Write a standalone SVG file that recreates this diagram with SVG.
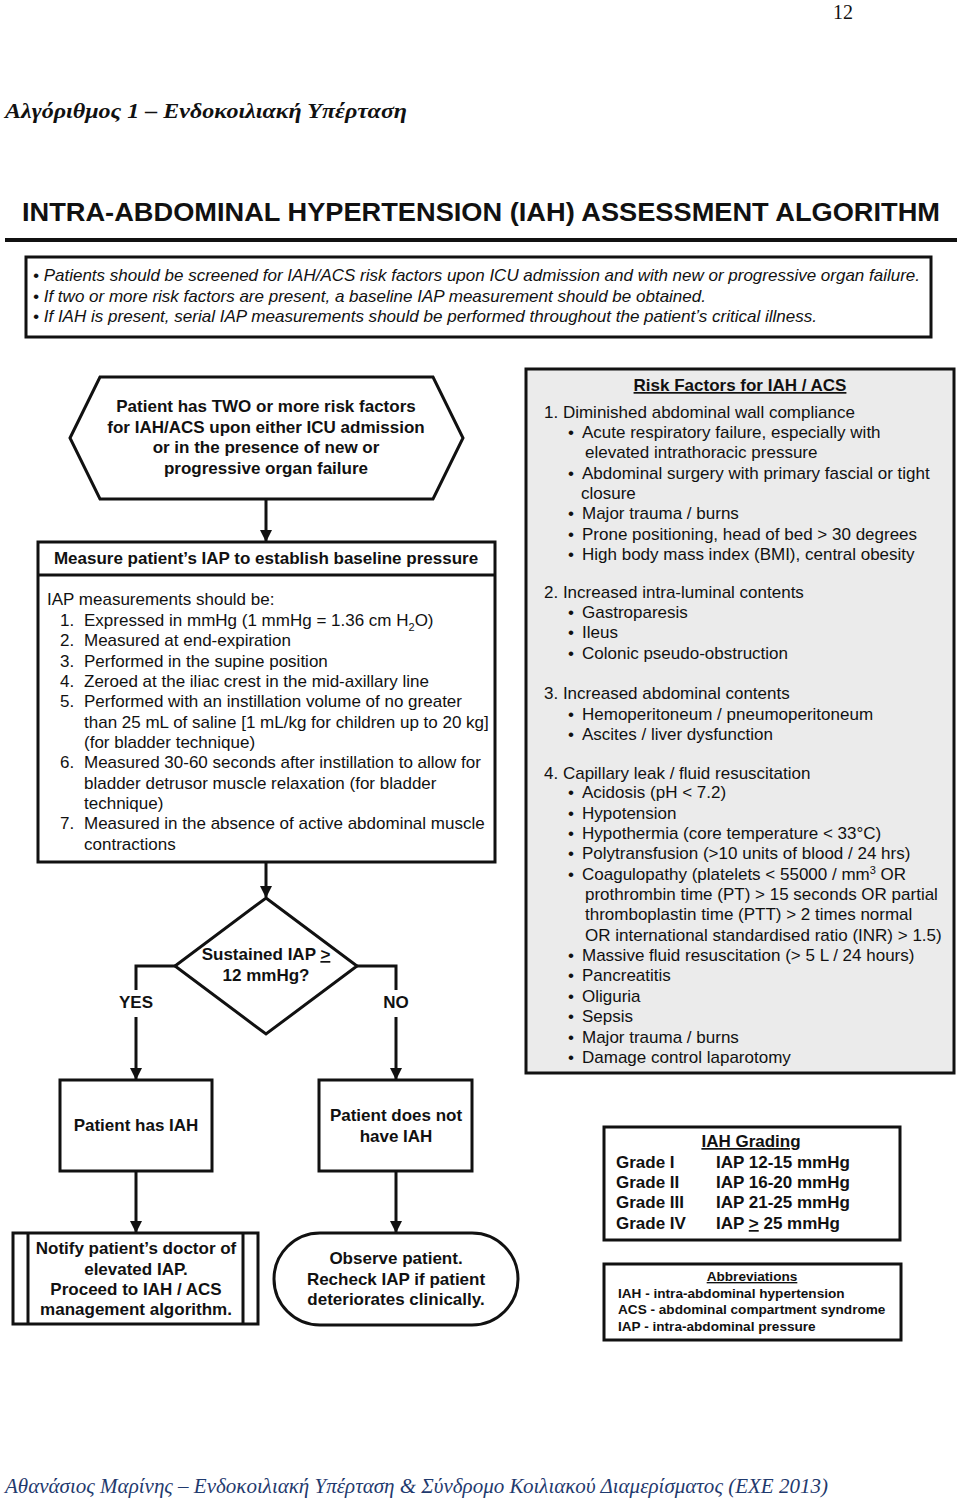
<svg xmlns="http://www.w3.org/2000/svg" width="960" height="1502" viewBox="0 0 960 1502">
<defs>
<style>
.s{font-family:"Liberation Sans",Arial,sans-serif;font-size:17px;fill:#111}
.b{font-family:"Liberation Sans",Arial,sans-serif;font-size:17px;font-weight:bold;fill:#111}
.c{text-anchor:middle}
.i{font-family:"Liberation Sans",Arial,sans-serif;font-size:17px;font-style:italic;fill:#111}
.box{fill:#fff;stroke:#111;stroke-width:3}
.ln{fill:none;stroke:#111;stroke-width:3}
.ab{font-family:"Liberation Sans",Arial,sans-serif;font-size:13.6px;font-weight:bold;fill:#111}
</style>
<marker id="ah" markerWidth="12" markerHeight="12" viewBox="0 0 12 12" refX="11" refY="6" orient="auto" markerUnits="userSpaceOnUse">
<path d="M0,0 L12,6 L0,12 z" fill="#111"/>
</marker>
</defs>
<rect width="960" height="1502" fill="#fff"/>

<text x="843" y="19" font-family="Liberation Serif,serif" font-size="20" fill="#111" text-anchor="middle">12</text>
<text x="5" y="118" font-family="Liberation Serif,serif" font-size="22" font-weight="bold" font-style="italic" fill="#111" textLength="402" lengthAdjust="spacingAndGlyphs">Αλγόριθμος 1 – Ενδοκοιλιακή Υπέρταση</text>

<g id="title">
<text transform="translate(22,221) scale(1,1.08)" x="0" y="0" font-family="Liberation Sans,Arial,sans-serif" font-size="24" font-weight="bold" fill="#111" textLength="918" lengthAdjust="spacingAndGlyphs">INTRA-ABDOMINAL HYPERTENSION (IAH) ASSESSMENT ALGORITHM</text>
<rect x="5" y="238" width="952" height="4" fill="#111"/>
</g>

<g id="intro">
<rect x="26" y="257" width="905" height="80" class="box"/>
<text class="i" x="33" y="281" textLength="887" lengthAdjust="spacingAndGlyphs">• Patients should be screened for IAH/ACS risk factors upon ICU admission and with new or progressive organ failure.</text>
<text class="i" x="33" y="302" textLength="673" lengthAdjust="spacingAndGlyphs">• If two or more risk factors are present, a baseline IAP measurement should be obtained.</text>
<text class="i" x="33" y="322" textLength="784" lengthAdjust="spacingAndGlyphs">• If IAH is present, serial IAP measurements should be performed throughout the patient’s critical illness.</text>
</g>

<g id="start">
<polygon points="70,438 100,377 433,377 463,438 433,499 100,499" class="box"/>
<text class="b c" x="266" y="412">Patient has TWO or more risk factors</text>
<text class="b c" x="266" y="433">for IAH/ACS upon either ICU admission</text>
<text class="b c" x="266" y="453">or in the presence of new or</text>
<text class="b c" x="266" y="474">progressive organ failure</text>
</g>

<g id="measure">
<rect x="38" y="542" width="457" height="320" class="box"/>
<line x1="38" y1="575" x2="495" y2="575" class="ln"/>
<text class="b c" x="266" y="564">Measure patient’s IAP to establish baseline pressure</text>
<text class="s" x="47" y="605">IAP measurements should be:</text>
<text class="s" x="60" y="626">1.</text><text class="s" x="84" y="626">Expressed in mmHg (1 mmHg = 1.36 cm H<tspan font-size="11" dy="5">2</tspan><tspan dy="-5">O)</tspan></text>
<text class="s" x="60" y="646">2.</text><text class="s" x="84" y="646">Measured at end-expiration</text>
<text class="s" x="60" y="667">3.</text><text class="s" x="84" y="667">Performed in the supine position</text>
<text class="s" x="60" y="687">4.</text><text class="s" x="84" y="687">Zeroed at the iliac crest in the mid-axillary line</text>
<text class="s" x="60" y="707">5.</text><text class="s" x="84" y="707">Performed with an instillation volume of no greater</text>
<text class="s" x="84" y="728">than 25 mL of saline [1 mL/kg for children up to 20 kg]</text>
<text class="s" x="84" y="748">(for bladder technique)</text>
<text class="s" x="60" y="768">6.</text><text class="s" x="84" y="768">Measured 30-60 seconds after instillation to allow for</text>
<text class="s" x="84" y="789">bladder detrusor muscle relaxation (for bladder</text>
<text class="s" x="84" y="809">technique)</text>
<text class="s" x="60" y="829">7.</text><text class="s" x="84" y="829">Measured in the absence of active abdominal muscle</text>
<text class="s" x="84" y="850">contractions</text>
</g>

<g id="decision">
<polygon points="266,898 357,966 266,1034 175,966" class="box"/>
<text class="b c" x="266" y="960">Sustained IAP <tspan text-decoration="underline">&gt;</tspan></text>
<text class="b c" x="266" y="981">12 mmHg?</text>
</g>

<g id="hasiah">
<rect x="60" y="1080" width="152" height="91" class="box"/>
<text class="b c" x="136" y="1131">Patient has IAH</text>
</g>

<g id="noiah">
<rect x="319" y="1080" width="153" height="91" class="box"/>
<text class="b c" x="396" y="1121">Patient does not</text>
<text class="b c" x="396" y="1142">have IAH</text>
</g>

<g id="notify">
<rect x="13" y="1233" width="245" height="91" class="box"/>
<line x1="28" y1="1233" x2="28" y2="1324" class="ln"/>
<line x1="243" y1="1233" x2="243" y2="1324" class="ln"/>
<text class="b c" x="136" y="1254">Notify patient’s doctor of</text>
<text class="b c" x="136" y="1275">elevated IAP.</text>
<text class="b c" x="136" y="1295">Proceed to IAH / ACS</text>
<text class="b c" x="136" y="1315">management algorithm.</text>
</g>

<g id="observe">
<rect x="274" y="1233" width="244" height="92" rx="46" ry="46" class="box"/>
<text class="b c" x="396" y="1264">Observe patient.</text>
<text class="b c" x="396" y="1285">Recheck IAP if patient</text>
<text class="b c" x="396" y="1305">deteriorates clinically.</text>
</g>

<g id="connectors">
<line x1="266" y1="499" x2="266" y2="541" class="ln" marker-end="url(#ah)"/>
<line x1="266" y1="862" x2="266" y2="897" class="ln" marker-end="url(#ah)"/>
<polyline points="175,966 136,966 136,990" class="ln"/>
<line x1="136" y1="1017" x2="136" y2="1079" class="ln" marker-end="url(#ah)"/>
<polyline points="357,966 396,966 396,990" class="ln"/>
<line x1="396" y1="1017" x2="396" y2="1079" class="ln" marker-end="url(#ah)"/>
<line x1="136" y1="1171" x2="136" y2="1232" class="ln" marker-end="url(#ah)"/>
<line x1="396" y1="1171" x2="396" y2="1232" class="ln" marker-end="url(#ah)"/>
<text class="b c" x="136" y="1008">YES</text>
<text class="b c" x="396" y="1008">NO</text>
</g>

<g id="risk">
<rect x="526" y="369" width="428" height="704" fill="#ebebeb" stroke="#111" stroke-width="3"/>
<text class="b c" x="740" y="391" text-decoration="underline">Risk Factors for IAH / ACS</text>
<g class="s">
<text x="544" y="418">1. Diminished abdominal wall compliance</text>
<text x="568" y="438">•</text><text x="582" y="438">Acute respiratory failure, especially with</text>
<text x="585" y="458">elevated intrathoracic pressure</text>
<text x="568" y="479">•</text><text x="582" y="479">Abdominal surgery with primary fascial or tight</text>
<text x="581" y="499">closure</text>
<text x="568" y="519">•</text><text x="582" y="519">Major trauma / burns</text>
<text x="568" y="540">•</text><text x="582" y="540">Prone positioning, head of bed &gt; 30 degrees</text>
<text x="568" y="560">•</text><text x="582" y="560">High body mass index (BMI), central obesity</text>
<text x="544" y="598">2. Increased intra-luminal contents</text>
<text x="568" y="618">•</text><text x="582" y="618">Gastroparesis</text>
<text x="568" y="638">•</text><text x="582" y="638">Ileus</text>
<text x="568" y="659">•</text><text x="582" y="659">Colonic pseudo-obstruction</text>
<text x="544" y="699">3. Increased abdominal contents</text>
<text x="568" y="720">•</text><text x="582" y="720">Hemoperitoneum / pneumoperitoneum</text>
<text x="568" y="740">•</text><text x="582" y="740">Ascites / liver dysfunction</text>
<text x="544" y="779">4. Capillary leak / fluid resuscitation</text>
<text x="568" y="798">•</text><text x="582" y="798">Acidosis (pH &lt; 7.2)</text>
<text x="568" y="819">•</text><text x="582" y="819">Hypotension</text>
<text x="568" y="839">•</text><text x="582" y="839">Hypothermia (core temperature &lt; 33°C)</text>
<text x="568" y="859">•</text><text x="582" y="859">Polytransfusion (&gt;10 units of blood / 24 hrs)</text>
<text x="568" y="880">•</text><text x="582" y="880">Coagulopathy (platelets &lt; 55000 / mm<tspan font-size="11" dy="-6">3</tspan><tspan dy="6"> OR</tspan></text>
<text x="585" y="900">prothrombin time (PT) &gt; 15 seconds OR partial</text>
<text x="585" y="920">thromboplastin time (PTT) &gt; 2 times normal</text>
<text x="585" y="941">OR international standardised ratio (INR) &gt; 1.5)</text>
<text x="568" y="961">•</text><text x="582" y="961">Massive fluid resuscitation (&gt; 5 L / 24 hours)</text>
<text x="568" y="981">•</text><text x="582" y="981">Pancreatitis</text>
<text x="568" y="1002">•</text><text x="582" y="1002">Oliguria</text>
<text x="568" y="1022">•</text><text x="582" y="1022">Sepsis</text>
<text x="568" y="1043">•</text><text x="582" y="1043">Major trauma / burns</text>
<text x="568" y="1063">•</text><text x="582" y="1063">Damage control laparotomy</text>
</g>
</g>

<g id="grading">
<rect x="604" y="1127" width="296" height="113" class="box"/>
<text class="b c" x="751" y="1147" text-decoration="underline">IAH Grading</text>
<text class="b" x="616" y="1168">Grade I</text><text class="b" x="716" y="1168">IAP 12-15 mmHg</text>
<text class="b" x="616" y="1188">Grade II</text><text class="b" x="716" y="1188">IAP 16-20 mmHg</text>
<text class="b" x="616" y="1208">Grade III</text><text class="b" x="716" y="1208">IAP 21-25 mmHg</text>
<text class="b" x="616" y="1229">Grade IV</text><text class="b" x="716" y="1229">IAP <tspan text-decoration="underline">&gt;</tspan> 25 mmHg</text>
</g>

<g id="abbrev">
<rect x="604" y="1264" width="297" height="76" class="box"/>
<text class="ab c" x="752" y="1281" text-decoration="underline">Abbreviations</text>
<text class="ab" x="618" y="1298">IAH - intra-abdominal hypertension</text>
<text class="ab" x="618" y="1314">ACS - abdominal compartment syndrome</text>
<text class="ab" x="618" y="1331">IAP - intra-abdominal pressure</text>
</g>

<text x="5" y="1493" font-family="Liberation Serif,serif" font-size="21" font-style="italic" fill="#1f3a6e" textLength="823" lengthAdjust="spacingAndGlyphs">Αθανάσιος Μαρίνης – Ενδοκοιλιακή Υπέρταση &amp; Σύνδρομο Κοιλιακού Διαμερίσματος (ΕΧΕ 2013)</text>
</svg>
